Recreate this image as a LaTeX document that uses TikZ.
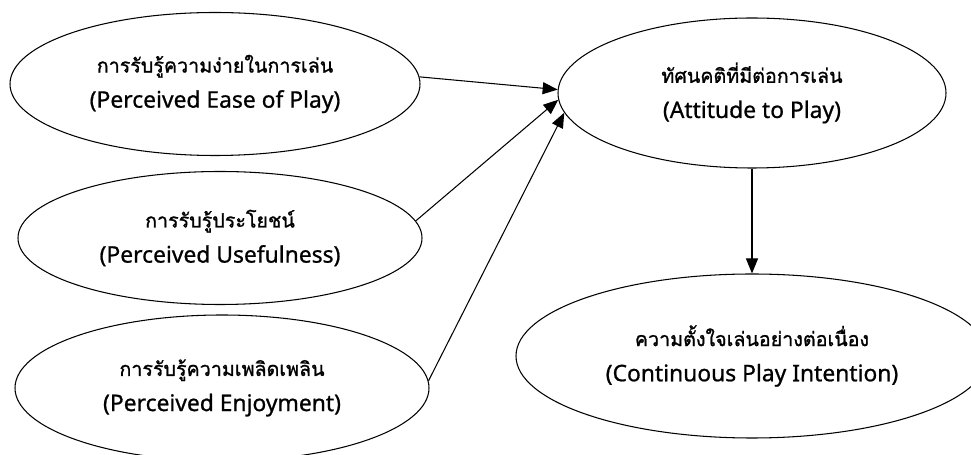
\documentclass[tikz,border=0pt]{standalone}
\usepackage{fontspec}
\setmainfont[FakeBold=0.8]{Noto Sans}
\newfontfamily\thaifont[Script=Thai,FakeBold=1.2]{Loma}
\usetikzlibrary{shapes.geometric,arrows.meta}
\tikzset{
  var/.style={ellipse,draw,line width=0.6pt,inner sep=0pt,align=center,
    font=\fontsize{13}{20}\selectfont},
}
\newcommand{\thtext}[1]{{\thaifont\fontsize{11.2}{20}\selectfont #1}}
\begin{document}
\begin{tikzpicture}[x=0.02cm,y=-0.02cm,>={Triangle[length=0.3cm,width=0.24cm]},line width=0.6pt]
		\useasboundingbox (0,0) rectangle (971,455);
		\node (Ea) at (215,84) [var,minimum width=410*0.02cm,minimum height=143*0.02cm] {\thtext{การรับรู้ความง่ายในการเล่น}\\(Perceived Ease of Play)};
		\node (Us) at (220,238) [var,minimum width=404*0.02cm,minimum height=133*0.02cm] {\thtext{การรับรู้ประโยชน์}\\(Perceived Usefulness)};
		\node (En) at (222,388) [var,minimum width=414*0.02cm,minimum height=146*0.02cm] {\thtext{การรับรู้ความเพลิดเพลิน}\\(Perceived Enjoyment)};
		\node (At) at (752,93) [var,minimum width=388*0.02cm,minimum height=150*0.02cm] {\thtext{ทัศนคติที่มีต่อการเล่น}\\(Attitude to Play)};
		\node (In) at (752,356) [var,minimum width=472*0.02cm,minimum height=164*0.02cm] {\thtext{ความตั้งใจเล่นอย่างต่อเนื่อง}\\(Continuous Play Intention)};
		\draw[->] (Ea.2) -- (At.179);
		\draw[->] (Us.5) -- (At.182);
		\draw[->] (En.2) -- (At.186);
		\draw[->] (At.south) -- (In.north);
	\end{tikzpicture}
\end{document}
